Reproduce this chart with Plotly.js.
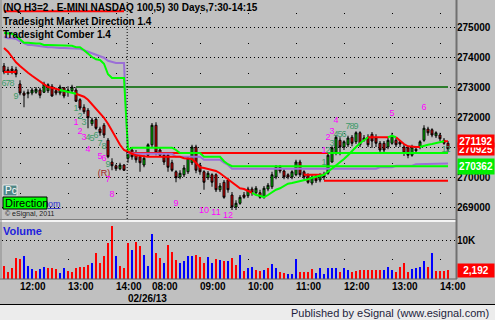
<!DOCTYPE html>
<html><head><meta charset="utf-8">
<script src="https://cdn.plot.ly/plotly-3.0.1.min.js"></script>
<style>html,body{margin:0;padding:0;background:#c0c0c0;}#chart{width:495px;height:320px;}</style>
</head><body><div id="chart"></div>
<script>
// ---------- DATA ----------
const timeTickIndex = [4,16,28,37,49,61,73,85,97,109];
const timeTickText  = ['12:00','13:00','14:00','08:00','09:00','10:00','11:00','12:00','13:00','14:00'];
const dateLabel = '02/26/13';
const dayBreakIndex = 31;
const priceTicks = [269000,270000,271000,272000,273000,274000,275000];
const priceTickText = ['269000','270000','','272000','273000','274000','275000'];
const volumeTicks = [10000];
const volumeTickText = ['10K'];

const openP = [273700,273575,273600,273575,273100,272800,272775,272800,272825,272900,
272825,272875,273025,272875,272800,272975,272825,272875,272900,272575,
272325,272225,271775,271925,271600,271725,271225,270500,270375,270275,
270400,270625,270900,270800,270675,270400,270725,271075,271725,270900,
270725,270725,270475,270175,270000,270075,270175,270475,271000,270400,
270175,269975,270075,270075,269575,269825,269900,269400,269000,269125,
269400,269375,269600,269475,269475,269325,269600,269675,270000,270325,
270200,270075,270000,270075,270500,270175,270075,269800,270025,269900,
270075,270125,270500,270800,271225,271000,271075,271325,271175,271475,
271300,271325,271425,271300,271125,271125,271000,271125,271225,271175,
271000,270975,270725,270925,271000,271225,271600,271575,271375,271400,
271225,271125];
const highP = [273800,273675,273700,273675,273225,272875,272925,272975,273000,272975,
273175,273125,273100,272975,273075,273000,273025,273075,273000,272625,
272425,272300,271975,272000,271675,271800,271300,270625,270425,270475,
270425,271000,270975,270900,270725,270725,271125,271800,271825,271000,
270825,270800,270575,270225,270225,270400,270700,271075,271075,270475,
270225,270200,270125,270125,269800,269900,269975,269500,269225,269400,
269500,269675,269675,269700,269575,269700,269800,270175,270400,270400,
270275,270125,270225,270575,270575,270225,270125,270075,270100,270125,
270175,270800,271025,271400,271325,271225,271375,271400,271525,271525,
271400,271425,271500,271425,271200,271200,271300,271475,271300,271225,
271100,271025,271075,271025,271225,271725,271675,271625,271525,271475,
271300,271200];
const lowP = [273425,273400,273425,273325,272725,272325,272625,272725,272775,272625,
272800,272800,272675,272725,272725,272625,272675,272825,272500,272225,
272100,271625,271700,271575,271375,271300,270625,270225,270200,270225,
270200,270475,270575,270475,270175,270325,270675,271000,270725,270675,
270400,270175,270175,269825,269925,270000,270100,270400,270125,270075,
269575,269900,269675,269500,269500,269275,269475,268900,268900,269075,
269275,269300,269375,269400,269275,269275,269525,269600,269925,270125,
269925,269925,269925,270025,270000,269925,269775,269725,269800,269825,
269900,270075,270475,270725,270725,270900,271000,271025,271100,271000,
271175,271000,270975,271000,270825,270800,270925,271075,271000,271000,
270700,270625,270675,270800,270925,271175,271375,271325,271300,271200,
271075,270825];
const closeP = [273500,273500,273525,273425,272800,272725,272825,272900,272925,272725,
273100,273075,272700,272800,273000,272700,272900,273000,272525,272300,
272175,271975,271900,271625,271475,271400,270675,270375,270275,270400,
270225,270875,270675,270575,270475,270625,271075,271725,270800,270725,
270500,270325,270225,269975,270125,270300,270625,271000,270225,270175,
269825,270125,269825,269575,269700,269325,269575,269000,269125,269325,
269325,269600,269475,269625,269325,269625,269725,270075,270325,270200,
270000,270000,270175,270500,270075,270000,269825,270000,269875,270075,
270000,270725,270975,271325,271000,271175,271300,271125,271475,271075,
271225,271075,271200,271125,270900,270900,271225,271375,271075,271100,
270800,270725,271000,270875,271175,271625,271475,271400,271475,271275,
271125,270925];
const volume = [3330,1880,2740,5470,5220,5900,3330,2560,2050,2480,
3000,2740,2740,2560,1620,2740,2050,1800,2900,3000,
3000,3590,4020,6750,4020,5810,9150,13680,5900,3330,
2740,9150,7440,9580,8460,6160,3330,11540,6580,5300,
4020,8720,7010,4870,4020,4620,5810,5810,6160,5730,
4020,5730,4020,5130,4870,4620,4620,5300,3590,6160,
2000,2740,3000,2310,2140,2310,2740,3760,2740,1880,
1620,1280,1280,5130,1880,1880,1880,2480,1450,2740,
1280,2740,2740,2900,1880,2740,2310,1880,2140,2310,
2310,2310,2310,2310,2310,2310,3000,2310,1880,3000,
4020,1880,2480,2740,3000,4620,3000,6750,2140,2140,
2140,2192];
// u = up-tick volume (blue), d = down-tick volume (red)
const volumeDir = ('ddddduuudu'+'uddduudddd'+'ddudddddud'+'ddudduuudd'+'uddduuuudd'+
  'duudududdu'+'duudduduud'+'duuudddduu'+'uuuuduuddd'+'ddddduuudd'+'dduuuududd'+'dd').split('');

const comberGreen = [274800,274775,274775,274700,274575,274475,274475,274450,274450,274450,
274400,274400,274400,274400,274375,274375,274375,274375,274325,274325,
274225,274100,274000,273925,273900,273775,273425,273300,273300,273300,
273300,
270900,
270975,270975,270975,270975,270975,270975,270975,270975,270975,270975,270975,
270900,
270800,270800,270800,270800,270800,270800,
270675,270675,270675,270675,270675,
270525,270425,
270362,270362,270362,270362,270362,270362,270362,270362,270362,270362,
270362,270362,270362,270362,270362,270362,270362,270362,270362,270362,
270362,270362,270362,270362,270362,270362,270362,270362,270362,270362,
270362,270362,270362,270362,270362,270362,270362,270362,270362,270362,
270362,270362,270362,270362,270362,270362,270362,270362,270362,270362,
270362,270362,270362,270362,270362];
const comberPurple = [274675,274625,274625,274600,274525,274475,274400,274400,274375,274375,
274325,274325,274325,274300,274300,274300,274300,274275,274275,274275,
274225,274175,274125,274100,274025,273975,273875,273825,273800,273800,
273800,
270800,
270775,270775,270775,270775,270775,270775,270775,270775,270775,270775,270775,
270675,270675,270675,270675,270675,270675,270675,
270575,270575,270575,270575,270575,
270475,270400,
270275,270275,270275,270275,270275,270275,270275,270275,270275,270275,
270275,270275,270275,270275,270275,270275,270275,270275,270275,270275,
270275,270275,270275,270275,270275,270275,270275,270275,270275,270275,
270275,270275,270275,270275,270275,270275,270275,
270325,270325,270325,270325,
270375,270375,270375,270375,270375,
270425,270425,270425,270425,
270450,270450,270450,270450,270450];
const directionLine = [274300,274175,274000,273825,273700,273575,273475,273375,273275,273175,
273075,273000,272975,272925,272900,272875,272825,272800,272775,272725,
272675,272575,272425,272300,272125,271975,271775,271525,271300,271075,
270900,270825,270775,270725,270700,270675,270675,270675,270675,270675,
270675,270675,270675,270675,270675,270625,270625,270600,270475,270325,
270300,270275,270225,270200,270125,270025,269900,269800,269700,269625,
269600,269525,269475,269400,269375,269325,269400,269500,269575,269625,
269700,269775,269800,269825,269875,269900,269925,269975,270000,270025,
270075,270175,270275,270375,270500,270600,270725,270875,271000,271125,
271225,271325,271325,271325,271325,271325,271325,271375,271325,271200,
271100,271025,271000,271000,271000,271050,271075,271100,271125,271175,
271192,271192];
// direction state runs (r = down/red, g = up/green)
const directionRuns = [['r',15],['g',4],['r',44],['g',29],['r',5],['g',2],['r',6],['g',6],['r',1]];

// horizontal levels
const levelValue = [275525,273500,273000,270800,270800,270075,269875];
const levelFrom  = [0,0,18,31,81,75,80];
const levelTo    = [30,3,111,81,111,80,111];
const levelKind  = ['r','r','d','r','g','r','r'];

// count labels
const tdText = ['6','7','8','9','1','2','1','3','2','3','4','5','6','7','8','4','5','6','9','(R)','7','8',
  '9','10','11','12','1','2','1','2','3','3','4','4','5','6','7','8','9','5','6','1','2'];
const tdX = [0,1,2,3,18,19,18,20,19,20,21,22,23,24,25,21,24,25,26,25,26,27,
  43,50,53,56,80,81,80,81,82,82,83,83,84,85,86,87,88,97,105,110,111];
const tdY = [273125,273125,273125,272675,272275,272000,271825,271800,271525,271325,271325,271275,271375,271100,271000,270925,270675,270600,270400,270125,269900,269425,
  269125,268875,268825,268700,270875,270875,270475,271325,271125,271500,271875,271400,271400,271400,271675,271675,271675,272100,272300,270925,270925];
const tdKind = ['g','g','g','g','g','g','m','g','m','m','g','g','g','g','g','m','m','m','g','r','m','m',
  'm','m','m','m','m','g','g','m','g','m','m','g','g','g','g','g','g','m','m','g','g'];

const lastMd = 271192, lastPrice = 270925, lastComber = 270362, lastVolume = 2192;

// ---------- BUILD ----------
const idx = openP.map((_, i) => i);
const dirState = [];
directionRuns.forEach(([c, n]) => { for (let k = 0; k < n; k++) dirState.push(c); });
function mdSeries(c) {
  return directionLine.map((v, i) => (dirState[i] === c || dirState[i + 1] === c) ? v : null);
}
const PX = px => (px - 2) / 454;
const PY = py => 1 - py / 279;
const F = 'Liberation Sans, Arial, sans-serif';

const traces = [];
traces.push({type:'bar', x: idx, y: volume, xaxis:'x2', yaxis:'y2', width:0.4,
  marker:{color: volumeDir.map(d => d === 'u' ? '#0000ff' : '#ff0000'), line:{width:0}}, hoverinfo:'skip'});
traces.push({type:'candlestick', x: idx, open: openP, high: highP, low: lowP, close: closeP,
  xaxis:'x', yaxis:'y', whiskerwidth:0,
  increasing:{line:{color:'#000000', width:1}, fillcolor:'#00e000'},
  decreasing:{line:{color:'#000000', width:1}, fillcolor:'#ff0000'}, hoverinfo:'skip'});
const levelColors = {r:'#ff0000', g:'#00ff00', d:'#2e7d2e'};
levelValue.forEach((v, k) => {
  const xs = [], ys = [];
  for (let i = levelFrom[k]; i <= levelTo[k]; i++) { xs.push(i); ys.push(v); }
  traces.push({type:'scatter', mode:'lines', x: xs, y: ys, line:{color: levelColors[levelKind[k]], width:2}, hoverinfo:'skip'});
});
traces.push({type:'scatter', mode:'lines', x: idx, y: comberPurple, line:{color:'#9b6fd6', width:2}, hoverinfo:'skip'});
traces.push({type:'scatter', mode:'lines', x: idx, y: comberGreen, line:{color:'#00ff00', width:2}, hoverinfo:'skip'});
traces.push({type:'scatter', mode:'lines', x: idx, y: mdSeries('r'), line:{color:'#ff0000', width:2}, connectgaps:false, hoverinfo:'skip'});
traces.push({type:'scatter', mode:'lines', x: idx, y: mdSeries('g'), line:{color:'#00ff00', width:2}, connectgaps:false, hoverinfo:'skip'});
const tdColors = {g:'#3f9b6b', m:'#ff00ff', r:'#a02020'};
traces.push({type:'scatter', mode:'text', x: tdX, y: tdY, text: tdText,
  textfont:{family:F, size:9, color: tdKind.map(k => tdColors[k])}, textposition:'middle center', hoverinfo:'skip', cliponaxis:false});

const axisFont = {family:F, size:10, color:'#000000', weight:'bold'};
const shapes = [
  {type:'rect', xref:'paper', yref:'paper', x0:PX(0), x1:PX(495), y0:PY(320), y1:PY(305), fillcolor:'#ececec', line:{width:0}},
  {type:'line', xref:'paper', yref:'paper', x0:PX(0), x1:PX(495), y0:PY(304.5), y1:PY(304.5), line:{color:'#000000', width:1}},
  {type:'line', xref:'paper', yref:'paper', x0:PX(0), x1:PX(456), y0:PY(219.5), y1:PY(219.5), line:{color:'#808080', width:1}},
  {type:'line', xref:'paper', yref:'paper', x0:PX(0), x1:PX(456), y0:PY(221), y1:PY(221), line:{color:'#f4f4f4', width:2}},
  {type:'line', xref:'paper', yref:'paper', x0:PX(0), x1:PX(457), y0:PY(279), y1:PY(279), line:{color:'#606060', width:1}},
  {type:'line', xref:'paper', yref:'paper', x0:PX(456.5), x1:PX(456.5), y0:PY(0), y1:PY(279), line:{color:'#707070', width:2}},
  {type:'line', xref:'paper', yref:'paper', x0:PX(1), x1:PX(1), y0:PY(0), y1:PY(279), line:{color:'#8a8a8a', width:1}},
  {type:'line', xref:'x', yref:'y domain', x0:dayBreakIndex-0.2, x1:dayBreakIndex-0.2, y0:0, y1:1, line:{color:'#000000', width:1, dash:'1px,2px'}},
  {type:'rect', xref:'paper', yref:'paper', x0:PX(3), x1:PX(17), y0:PY(196), y1:PY(185), fillcolor:'#4f8787', line:{color:'#e8e8e8', width:1}},
  {type:'rect', xref:'paper', yref:'paper', x0:PX(3), x1:PX(47), y0:PY(209), y1:PY(197), fillcolor:'#00ff00', line:{color:'#000000', width:1}}
];
function ann(text, x, y, opts) {
  return Object.assign({text, x, y, xref:'paper', yref:'paper', showarrow:false, xanchor:'left', yanchor:'middle',
    font:{family:F, size:10, color:'#000000', weight:'bold'}, borderpad:0}, opts || {});
}
const boxFont = {family:F, size:10, color:'#ffffff', weight:'bold'};
const annotations = [
  ann('(NQ H3=2 . E-MINI NASDAQ 100,5) 30 Days,7:30-14:15', PX(2), PY(7)),
  ann('Tradesight Market Direction 1.4', PX(2), PY(21)),
  ann('Tradesight Comber 1.4', PX(2), PY(34)),
  ann('Volume', PX(2), PY(230.5), {font:{family:F, size:11, color:'#2222dd', weight:'bold'}}),
  ann('Pc', PX(4), PY(190.5), {font:{family:F, size:10, color:'#ffffff'}}),
  ann('Direction', PX(4), PY(203), {font:{family:F, size:11, color:'#000000'}}),
  ann('<u>om</u>', PX(47), PY(204), {font:{family:F, size:9, color:'#3030d0'}}),
  ann('© eSignal, 2011', PX(4), PY(214), {font:{family:F, size:7, color:'#202020'}}),
  ann(dateLabel, dayBreakIndex - 0.3, PY(298), {xref:'x2'}),
  ann('Published by eSignal (www.esignal.com)', PX(490), PY(312.5), {xanchor:'right', font:{family:F, size:11, color:'#1e1e3c'}}),
  ann(String(lastComber), PX(457), lastComber, {yref:'y', width:36, height:15, bgcolor:'#00ee00', font:boxFont}),
  ann(String(lastPrice), PX(457), lastPrice, {yref:'y', width:36, height:12, bgcolor:'#ff0000', font:boxFont}),
  ann(String(lastMd), PX(457), lastMd, {yref:'y', width:36, height:12, bgcolor:'#ff0000', font:boxFont}),
  ann(lastVolume.toLocaleString('en-US'), PX(457), lastVolume, {yref:'y2', width:36, height:13, bgcolor:'#ff0000', font:boxFont})
];

const layout = {
  width:495, height:320, autosize:false,
  margin:{l:2, r:39, t:0, b:41, pad:0},
  paper_bgcolor:'#c0c0c0', plot_bgcolor:'#c0c0c0',
  showlegend:false, font:{family:F, size:10, color:'#000000'},
  xaxis:{range:[-0.5,113], anchor:'y', tickvals:timeTickIndex, showticklabels:false, ticks:'',
    showgrid:true, gridcolor:'#000000', gridwidth:1, griddash:'0px,13px,1px,16px', zeroline:false, showline:false,
    rangeslider:{visible:false}, fixedrange:true},
  yaxis:{domain:[60/279,1], range:[268600,275900], side:'right', tickvals:priceTicks, ticktext:priceTickText,
    tickfont:axisFont, ticks:'', showgrid:true, gridcolor:'#000000', gridwidth:1, griddash:'1px,3px',
    zeroline:false, showline:false, fixedrange:true},
  xaxis2:{range:[-0.5,113], anchor:'y2', tickvals:timeTickIndex, ticktext:timeTickText, ticks:'',
    ticklabelposition:'outside right', tickfont:axisFont, showgrid:true, gridcolor:'#000000', gridwidth:1,
    griddash:'0px,37px,1px,40px', zeroline:false, showline:false, fixedrange:true},
  yaxis2:{domain:[0,57/279], range:[0,14615], side:'right', anchor:'x2', tickvals:volumeTicks, ticktext:volumeTickText,
    tickfont:axisFont, ticks:'', showgrid:true, gridcolor:'#000000', gridwidth:1, griddash:'1px,3px',
    zeroline:false, showline:false, fixedrange:true},
  shapes, annotations,
  bargap:0
};
Plotly.newPlot('chart', traces, layout, {displayModeBar:false, staticPlot:true});
</script>
</body></html>
